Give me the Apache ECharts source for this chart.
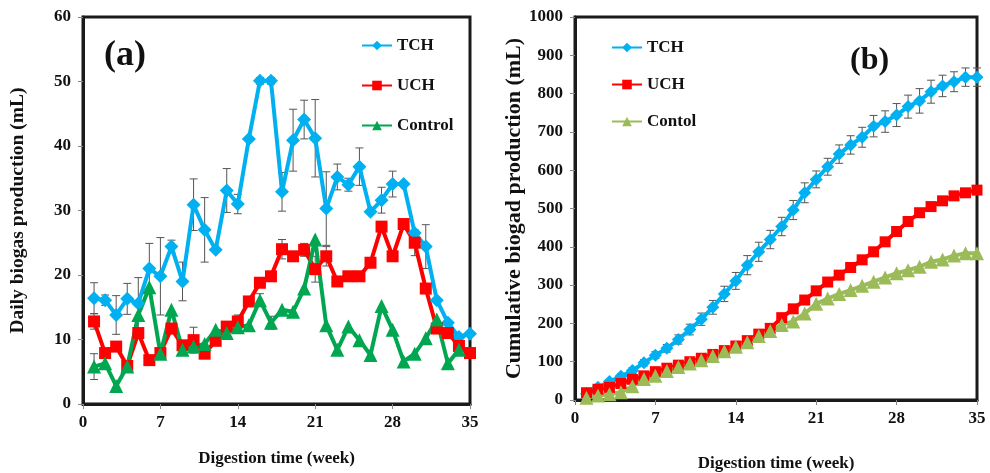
<!DOCTYPE html>
<html>
<head>
<meta charset="utf-8">
<script src="https://cdn.jsdelivr.net/npm/echarts@6/dist/echarts.min.js"></script>
<style>
html,body{margin:0;padding:0;background:#fff;}
#chart{width:990px;height:473px;}
</style>
</head>
<body>
<div id="chart"></div>
<script>
// ---------- data ----------
const weeks = [1,2,3,4,5,6,7,8,9,10,11,12,13,14,15,16,17,18,19,20,21,22,23,24,25,26,27,28,29,30,31,32,33,34,35];
const xTicks = [0,7,14,21,28,35];

// (a) daily biogas production (mL)
const dailyTCH = [16.4,16.1,13.8,16.3,15.6,21.0,19.8,24.4,19.0,30.9,27.0,23.9,33.1,31.0,41.1,50.1,50.1,32.9,40.9,44.1,41.2,30.3,35.2,34.0,36.8,29.8,31.6,34.1,34.1,26.5,24.4,16.1,12.6,10.4,10.9];
const dailyUCH = [12.8,7.9,8.9,5.9,11.0,6.8,7.9,11.7,9.1,9.9,7.8,9.8,12.0,12.8,15.9,18.8,19.8,24.0,22.9,23.9,20.9,22.9,19.0,19.8,19.8,21.9,27.5,22.9,27.9,25.0,17.9,11.7,11.0,9.0,7.9];
const dailyControl = [5.8,6.3,2.8,5.8,13.8,18.1,7.8,14.6,8.4,8.9,9.3,11.5,11.0,11.9,12.2,16.1,12.6,14.6,14.3,17.9,25.5,12.2,8.4,12.0,9.9,7.6,15.2,11.5,6.6,7.8,10.2,13.1,6.3,8.4];
const errDailyTCH = [2.4,0.8,3.0,2.4,4.0,3.9,6.0,1.0,3.0,4.0,5.0,0,3.4,1.5,0,0.5,0.5,3.0,4.8,3.0,6.0,5.7,2.0,1.0,2.9,0,2.0,2.0,0,0,3.4,0,0,0,0];
const errDailyUCH = [1.2,0,0,0,0,0,0,0,0,2.0,0,0,0,1.0,0,0,0,1.5,0,1.0,2.0,1.5,0,0,0,0,0,0,0,2.0,0,0,0,0,0];
const errDailyControl = [2.0,0,0,0,0,0,0,0,0,0,0,0,0,0,0,1.0,1.0,0,0,0,0,0,0,0,0,0,0,0,0,0,0,0,0,0];

// (b) cumulative biogas production (mL)
const cumTCH = [16,33,48,62,77,97,117,135,158,184,211,242,277,311,352,387,419,453,496,541,576,609,642,666,686,715,727,744,766,781,805,820,831,843,843];
const cumUCH = [19,28,33,43,54,63,74,83,91,100,109,119,129,141,155,172,187,215,238,261,285,308,326,346,366,387,413,440,466,489,505,520,533,541,548];
const cumControl = [6,12,15,20,36,55,63,76,86,95,104,115,127,139,151,167,180,196,205,226,251,265,277,287,298,309,320,331,339,348,361,367,377,383,383];
const errCumTCH = [3,4,5,6,7,8,9,10,12,14,16,18,20,22,25,25,24,24,25,26,22,22,24,24,26,28,28,30,30,32,30,28,26,24,24];

// ---------- helpers ----------
const pairs = (ys) => ys.map((v, i) => [weeks[i], v]);
const errData = (ys, es) => ys.map((v, i) => [weeks[i], v - es[i], v + es[i], es[i]]).filter(d => d[3] > 0);

const serif = 'Liberation Serif';
const axisLabelStyle = {fontFamily: serif, fontWeight: 'bold', fontSize: 17, color: '#111'};
const axisNameStyle = {fontFamily: serif, fontWeight: 'bold', fontSize: 17, color: '#111'};

function errorSeries(data, xIdx, yIdx) {
  return {
    type: 'custom',
    xAxisIndex: xIdx, yAxisIndex: yIdx,
    z: 1,
    silent: true,
    data: data,
    renderItem: function (params, api) {
      const x = api.value(0);
      const lo = api.coord([x, api.value(1)]);
      const hi = api.coord([x, api.value(2)]);
      const w = 4;
      const st = {stroke: '#555', lineWidth: 1};
      return {
        type: 'group',
        children: [
          {type: 'line', shape: {x1: hi[0], y1: hi[1], x2: lo[0], y2: lo[1]}, style: st},
          {type: 'line', shape: {x1: hi[0] - w, y1: hi[1], x2: hi[0] + w, y2: hi[1]}, style: st},
          {type: 'line', shape: {x1: lo[0] - w, y1: lo[1], x2: lo[0] + w, y2: lo[1]}, style: st}
        ]
      };
    }
  };
}

function lineSeries(name, data, color, symbol, size, xIdx, yIdx, width) {
  return {
    name: name, type: 'line', data: data,
    xAxisIndex: xIdx, yAxisIndex: yIdx,
    symbol: symbol, symbolSize: size,
    lineStyle: {color: color, width: width},
    itemStyle: {color: color},
    z: 3,
    animation: false
  };
}

const axisLineStyle = {show: true, lineStyle: {color: '#1a1a1a', width: 3}};
const tickStyle = {show: true, length: 5, lineStyle: {color: '#888', width: 1}};

const chart = echarts.init(document.getElementById('chart'));
chart.setOption({
  animation: false,
  backgroundColor: '#fff',
  grid: [
    {left: 83, top: 17, width: 387, bottom: 69, show: true, borderColor: '#1a1a1a', borderWidth: 3,
     containLabel: false, outerBoundsMode: 'none'},
    {left: 575, top: 17, width: 402, bottom: 73, show: true, borderColor: '#1a1a1a', borderWidth: 3,
     containLabel: false, outerBoundsMode: 'none'}
  ],
  xAxis: [
    {gridIndex: 0, type: 'value', min: xTicks[0], max: xTicks[xTicks.length - 1], interval: 7,
     axisLine: axisLineStyle, axisTick: tickStyle, splitLine: {show: false},
     axisLabel: Object.assign({margin: 10}, axisLabelStyle),
     name: 'Digestion time (week)', nameLocation: 'middle', nameGap: 46, nameTextStyle: axisNameStyle},
    {gridIndex: 1, type: 'value', min: xTicks[0], max: xTicks[xTicks.length - 1], interval: 7,
     axisLine: axisLineStyle, axisTick: tickStyle, splitLine: {show: false},
     axisLabel: Object.assign({margin: 10}, axisLabelStyle),
     name: 'Digestion time (week)', nameLocation: 'middle', nameGap: 55, nameTextStyle: axisNameStyle}
  ],
  yAxis: [
    {gridIndex: 0, type: 'value', min: 0, max: 60, interval: 10,
     axisLine: axisLineStyle, axisTick: tickStyle, splitLine: {show: false},
     axisLabel: Object.assign({margin: 12}, axisLabelStyle),
     name: 'Daily biogas production (mL)', nameLocation: 'middle', nameGap: 55,
     nameTextStyle: Object.assign({}, axisNameStyle, {fontSize: 19.5})},
    {gridIndex: 1, type: 'value', min: 0, max: 1000, interval: 100,
     axisLine: axisLineStyle, axisTick: tickStyle, splitLine: {show: false},
     axisLabel: Object.assign({margin: 12, formatter: (v) => String(v)}, axisLabelStyle),
     name: 'Cumulative biogad production (mL)', nameLocation: 'middle', nameGap: 43,
     nameTextStyle: Object.assign({}, axisNameStyle, {fontSize: 22})}
  ],
  legend: [
    {left: 356, top: 32, orient: 'vertical', itemGap: 23, itemWidth: 30, itemHeight: 12,
     data: ['TCH', 'UCH', 'Control'],
     textStyle: {fontFamily: serif, fontWeight: 'bold', fontSize: 17, color: '#111'}},
    {left: 606, top: 34, orient: 'vertical', itemGap: 20, itemWidth: 30, itemHeight: 12,
     data: ['TCH', 'UCH', 'Contol'],
     textStyle: {fontFamily: serif, fontWeight: 'bold', fontSize: 17, color: '#111'}}
  ],
  graphic: [
    {type: 'text', left: 104, top: 38, style: {text: '(a)', font: 'bold 36px "Liberation Serif"', fill: '#111'}},
    {type: 'text', left: 850, top: 45, style: {text: '(b)', font: 'bold 32px "Liberation Serif"', fill: '#111'}}
  ],
  series: [
    errorSeries(errData(dailyTCH, errDailyTCH), 0, 0),
    errorSeries(errData(dailyUCH, errDailyUCH), 0, 0),
    errorSeries(errData(dailyControl, errDailyControl), 0, 0),
    lineSeries('TCH', pairs(dailyTCH), '#00B0F0', 'diamond', 14, 0, 0, 4),
    lineSeries('UCH', pairs(dailyUCH), '#FF0000', 'rect', 12, 0, 0, 4),
    lineSeries('Control', pairs(dailyControl), '#00A650', 'triangle', 14, 0, 0, 4),
    errorSeries(errData(cumTCH, errCumTCH), 1, 1),
    lineSeries('TCH', pairs(cumTCH), '#00B0F0', 'diamond', 13, 1, 1, 4),
    lineSeries('UCH', pairs(cumUCH), '#FF0000', 'rect', 11, 1, 1, 4),
    lineSeries('Contol', pairs(cumControl), '#9BBB59', 'triangle', 14, 1, 1, 4)
  ]
});
</script>
</body>
</html>
